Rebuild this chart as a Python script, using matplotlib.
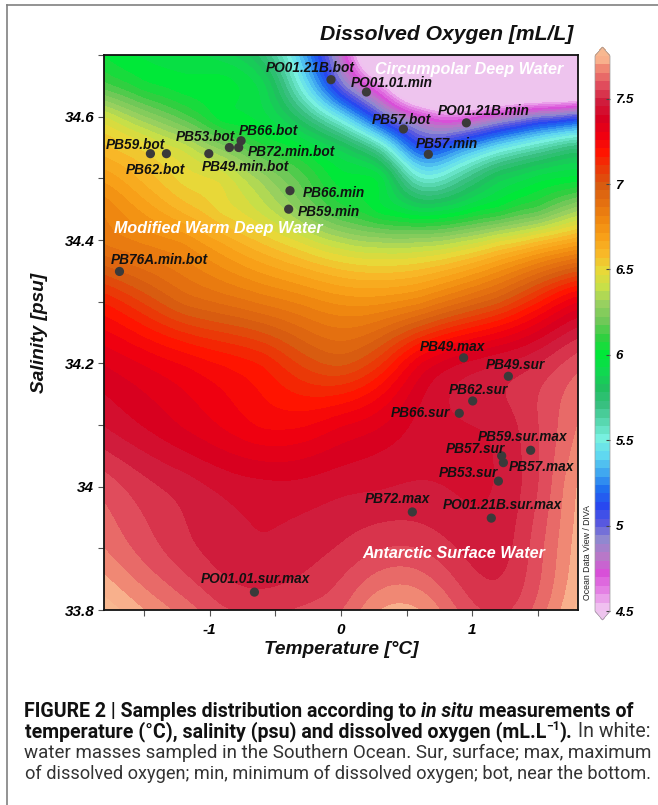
import numpy as np
import matplotlib
matplotlib.use("Agg")
import matplotlib.pyplot as plt
from matplotlib.colors import LinearSegmentedColormap, Normalize

plt.rcParams['font.family'] = ['Liberation Sans', 'DejaVu Sans']
caption_family = ['Roboto', 'Liberation Sans', 'DejaVu Sans']

W, H = 658, 805  # figure size in pixels

# Samples (temperature in degC, salinity in psu)
sample_names = ["PO01.21B.bot", "PO01.01.min", "PB57.bot", "PO01.21B.min", "PB57.min",
                "PB59.bot", "PB62.bot", "PB49.min.bot", "PB53.bot", "PB72.min.bot",
                "PB66.bot", "PB66.min", "PB59.min", "PB76A.min.bot", "PB49.max",
                "PB49.sur", "PB62.sur", "PB66.sur", "PB59.sur.max", "PB57.sur",
                "PB57.max", "PB53.sur", "PB72.max", "PO01.21B.sur.max", "PO01.01.sur.max"]
temperature = [-0.076, 0.194, 0.476, 0.956, 0.666,
               -1.453, -1.331, -1.008, -0.851, -0.780,
               -0.762, -0.389, -0.399, -1.689, 0.935,
               1.276, 1.004, 0.902, 1.446, 1.225,
               1.238, 1.200, 0.544, 1.146, -0.660]
salinity = [34.660, 34.640, 34.580, 34.590, 34.539,
            34.540, 34.540, 34.540, 34.550, 34.550,
            34.561, 34.480, 34.450, 34.349, 34.209,
            34.179, 34.139, 34.119, 34.059, 34.050,
            34.039, 34.009, 33.959, 33.949, 33.829]

# label offsets from the dot (pixels, right / down)
label_dx = [-65.6, -15.4, -31.4, -28.4, -12.4, -44.4, -41, -7.3, -53.4, 9, -2.3, 12.7, 9.3,
            -9, -44, -22.4, -24, -68.7, -53, -56.3, 5.3, -59.4, -47.7, -48.4, -54]
label_dy = [-8, -5.3, -5.3, -7.7, -6.7, -5, 20.3, 17, -7, 8, -6, 6.6, 6.4,
            -7, -6.7, -7, -7.4, 3.7, -9.3, -3.3, 8, -4.3, -9, -8.7, -9.3]

# Dissolved oxygen field (mL/L)
grid_t = [-1.8, -1.5, -1.2, -0.9, -0.6, -0.3, 0.0, 0.3, 0.6, 0.9, 1.2, 1.5, 1.8]
grid_s = [34.7, 34.65, 34.6, 34.55, 34.5, 34.45, 34.4, 34.3, 34.2, 34.1, 34.0, 33.9, 33.8]
o2_grid = [
    [6.02, 5.97, 5.95, 5.9, 5.75, 5.35, 4.8, 4.2, 4.2, 4.2, 4.2, 4.2, 4.2],
    [6.15, 6.05, 6.0, 6.0, 5.9, 5.5, 5.0, 4.6, 4.2, 4.2, 4.2, 4.2, 4.2],
    [6.42, 6.28, 6.15, 6.0, 5.95, 5.75, 5.45, 5.05, 4.75, 4.65, 4.8, 4.95, 5.05],
    [6.58, 6.5, 6.4, 6.25, 6.1, 6.0, 5.85, 5.6, 5.15, 5.25, 5.45, 5.6, 5.72],
    [6.7, 6.6, 6.5, 6.45, 6.3, 6.15, 6.0, 5.95, 5.55, 5.65, 5.85, 5.95, 6.0],
    [6.8, 6.7, 6.6, 6.5, 6.4, 6.25, 6.1, 6.0, 5.9, 5.95, 6.05, 6.15, 6.3],
    [6.85, 6.8, 6.75, 6.65, 6.55, 6.45, 6.35, 6.3, 6.3, 6.35, 6.45, 6.55, 6.65],
    [7.15, 7.05, 6.95, 6.9, 6.85, 6.8, 6.75, 6.75, 6.8, 6.9, 7.0, 7.15, 7.3],
    [7.35, 7.3, 7.25, 7.2, 7.15, 7.05, 7.0, 7.1, 7.3, 7.4, 7.45, 7.5, 7.58],
    [7.45, 7.4, 7.35, 7.3, 7.25, 7.25, 7.3, 7.35, 7.42, 7.45, 7.47, 7.55, 7.65],
    [7.58, 7.52, 7.48, 7.44, 7.42, 7.42, 7.44, 7.45, 7.46, 7.45, 7.46, 7.55, 7.7],
    [7.65, 7.58, 7.52, 7.48, 7.46, 7.48, 7.51, 7.55, 7.55, 7.5, 7.48, 7.58, 7.72],
    [7.78, 7.7, 7.63, 7.56, 7.54, 7.56, 7.6, 7.7, 7.7, 7.6, 7.54, 7.62, 7.76],
]

cbar_ticks = [4.5, 5, 5.5, 6, 6.5, 7, 7.5]
cbar_ticklabels = ["4.5", "5", "5.5", "6", "6.5", "7", "7.5"]

# ODV like palette
odv_nodes = [
    (4.50, "#f0c0f0"), (4.60, "#e480e4"), (4.70, "#d850d8"), (4.80, "#b878c8"),
    (4.90, "#9088d0"), (5.00, "#5858e0"), (5.10, "#2848f0"), (5.20, "#2070f0"),
    (5.30, "#40a8f0"), (5.40, "#60d8f0"), (5.50, "#78f0e0"), (5.60, "#58d8b0"),
    (5.70, "#38c080"), (5.80, "#20c060"), (5.90, "#10d850"), (6.00, "#00e838"),
    (6.10, "#30d040"), (6.20, "#70c858"), (6.30, "#98d060"), (6.40, "#c8e048"),
    (6.50, "#e8d838"), (6.60, "#f8b828"), (6.70, "#f8a018"), (6.80, "#f08810"),
    (6.90, "#e47010"), (7.00, "#d85c10"), (7.10, "#ea3a08"), (7.20, "#ff1400"),
    (7.30, "#f00010"), (7.40, "#d80020"), (7.50, "#d01c3c"), (7.60, "#e04c5c"),
    (7.70, "#f08874"), (7.75, "#f8b08c"),
]
vmin, vmax = 4.5, 7.75
cmap = LinearSegmentedColormap.from_list(
    "odv", [((v - vmin) / (vmax - vmin), c) for v, c in odv_nodes], N=66)
cmap.set_under("#eec4ee")
cmap.set_over("#f8b890")

# --- thin plate spline gridding of the read values ---
S_SCALE = 4.7  # psu -> degC, to match the plot aspect
gt, gs = np.meshgrid(grid_t, grid_s)
px = gt.ravel()
py = gs.ravel() * S_SCALE
pz = np.array(o2_grid).ravel()

def tps_kernel(r):
    with np.errstate(divide='ignore', invalid='ignore'):
        k = r**2 * np.log(r)
    k[r == 0] = 0.0
    return k

n = len(px)
K = tps_kernel(np.hypot(px[:, None] - px[None, :], py[:, None] - py[None, :]))
P = np.column_stack([np.ones(n), px, py])
A = np.zeros((n + 3, n + 3))
A[:n, :n] = K
A[:n, n:] = P
A[n:, :n] = P.T
coef = np.linalg.solve(A, np.concatenate([pz, np.zeros(3)]))

xlim = (-1.807, 1.807)
ylim = (33.8, 34.7)
xi = np.linspace(xlim[0], xlim[1], 474)
yi = np.linspace(ylim[0], ylim[1], 555)
XI, YI = np.meshgrid(xi, yi)
qx = XI.ravel()
qy = YI.ravel() * S_SCALE
ZI = np.empty(qx.shape)
for i in range(0, len(qx), 40000):
    sl = slice(i, i + 40000)
    Kq = tps_kernel(np.hypot(qx[sl, None] - px[None, :], qy[sl, None] - py[None, :]))
    ZI[sl] = Kq @ coef[:n] + coef[n] + coef[n + 1] * qx[sl] + coef[n + 2] * qy[sl]
ZI = ZI.reshape(XI.shape)

# --- figure ---
fig = plt.figure(figsize=(W / 100, H / 100), dpi=100)
ax = fig.add_axes([104 / W, 1 - 610 / H, 474 / W, 555 / H])

im = ax.imshow(ZI, origin='lower', extent=(xlim[0], xlim[1], ylim[0], ylim[1]),
               aspect='auto', cmap=cmap, norm=Normalize(vmin, vmax),
               interpolation='nearest', zorder=0)

ax.scatter(temperature, salinity, s=44, color="#3a3a3a", edgecolors='none', zorder=3)
for name, t, s, dx, dy in zip(sample_names, temperature, salinity, label_dx, label_dy):
    ax.annotate(name, (t, s), xytext=(dx * 0.72, -dy * 0.72), textcoords='offset points',
                ha='left', va='baseline', fontsize=9.8, fontweight='bold',
                fontstyle='italic', color="#111111", zorder=4)

mass_kw = dict(ha='left', va='baseline', fontsize=11.6, fontweight='bold',
               fontstyle='italic', color='white', zorder=4)
ax.text(-1.732, 34.412, "Modified Warm Deep Water", **mass_kw)
ax.text(0.257, 34.670, "Circumpolar Deep Water", **mass_kw)
ax.text(0.160, 33.884, "Antarctic Surface Water", **mass_kw)

ax.set_xlim(xlim)
ax.set_ylim(ylim)
ax.set_xticks([-1, 0, 1])
ax.set_xticklabels(["-1", "0", "1"])
ax.set_xticks([-1.5, -0.5, 0.5, 1.5], minor=True)
ax.set_yticks([33.8, 34.0, 34.2, 34.4, 34.6])
ax.set_yticklabels(["33.8", "34", "34.2", "34.4", "34.6"])
ax.set_yticks([33.9, 34.1, 34.3, 34.5, 34.7], minor=True)
ax.tick_params(which='both', direction='out', length=4, width=0.8, color="#555555")
ax.tick_params(axis='y', pad=3)
ax.tick_params(axis='x', pad=5)
for lab in ax.get_xticklabels() + ax.get_yticklabels():
    lab.set_fontsize(11)
    lab.set_fontweight('bold')
    lab.set_fontstyle('italic')
for sp in ax.spines.values():
    sp.set_linewidth(1.3)
    sp.set_color("#111111")

# axis labels and title
lab_kw = dict(fontsize=13.8, fontweight='bold', fontstyle='italic', color="#111111")
fig.text(341 / W, 1 - 654 / H, "Temperature [°C]", ha='center', va='baseline', **lab_kw)
fig.text(39 / W, 1 - 333 / H, "Salinity [psu]", ha='center', va='center', rotation=90, **lab_kw)
fig.text(573 / W, 1 - 40 / H, "Dissolved Oxygen [mL/L]", ha='right', va='baseline',
         fontsize=15.2, fontweight='bold', fontstyle='italic', color="#111111")
fig.text(587 / W, 1 - 552 / H, "Ocean Data View / DIVA", ha='center', va='center',
         rotation=90, fontsize=6.3, color="#222222")

# colorbar
cax = fig.add_axes([595 / W, 1 - 620 / H, 15 / W, 573 / H])
cbar = fig.colorbar(im, cax=cax, extend='both', extendfrac=0.016, ticks=cbar_ticks)
cbar.ax.set_yticklabels(cbar_ticklabels)
cbar.ax.tick_params(direction='in', length=3, width=0.8, color="#444444", pad=4)
for lab in cbar.ax.get_yticklabels():
    lab.set_fontsize(9.5)
    lab.set_fontweight('bold')
    lab.set_fontstyle('italic')
cbar.outline.set_linewidth(0.5)
cbar.outline.set_edgecolor("#999999")

# outer frame (top and left edges are visible)
fig.add_artist(plt.Line2D([7 / W, 1], [1 - 5 / H, 1 - 5 / H], color="#808080", lw=1.2))
fig.add_artist(plt.Line2D([7 / W, 7 / W], [0, 1 - 5 / H], color="#808080", lw=1.2))

# caption
renderer = fig.canvas.get_renderer()

def put_line(x0, base, pieces, target_w, size0=12.5):
    def lay(size):
        arts = []
        x = x0
        for txt, weight, style, sup in pieces:
            fs = size * 0.62 if sup else size
            yy = base - (size * 0.36 * 100 / 72 if sup else 0)
            t = fig.text(x / W, 1 - yy / H, txt, fontsize=fs, fontweight=weight,
                         fontstyle=style, family=caption_family, ha='left', va='baseline',
                         color="#111111" if weight == 'bold' else "#333333")
            x += t.get_window_extent(renderer).width
            arts.append(t)
        return arts, x - x0
    arts, w = lay(size0)
    for a in arts:
        a.remove()
    lay(size0 * target_w / w)

put_line(24.3, 716.5, [("FIGURE 2 | Samples distribution according to ", 'bold', 'normal', False),
                       ("in situ", 'bold', 'italic', False),
                       (" measurements of", 'bold', 'normal', False)], 612.7)
put_line(25, 737, [("temperature (°C), salinity (psu) and dissolved oxygen (mL.L", 'bold', 'normal', False),
                   ("\u22121", 'bold', 'normal', True),
                   (").", 'bold', 'normal', False),
                   (" In white:", 'normal', 'normal', False)], 626)
put_line(24.3, 757.5, [("water masses sampled in the Southern Ocean. Sur, surface; max, maximum",
                        'normal', 'normal', False)], 625.3)
put_line(25, 778.5, [("of dissolved oxygen; min, minimum of dissolved oxygen; bot, near the bottom.",
                      'normal', 'normal', False)], 623.3)

fig.savefig("out.png", dpi=100)
